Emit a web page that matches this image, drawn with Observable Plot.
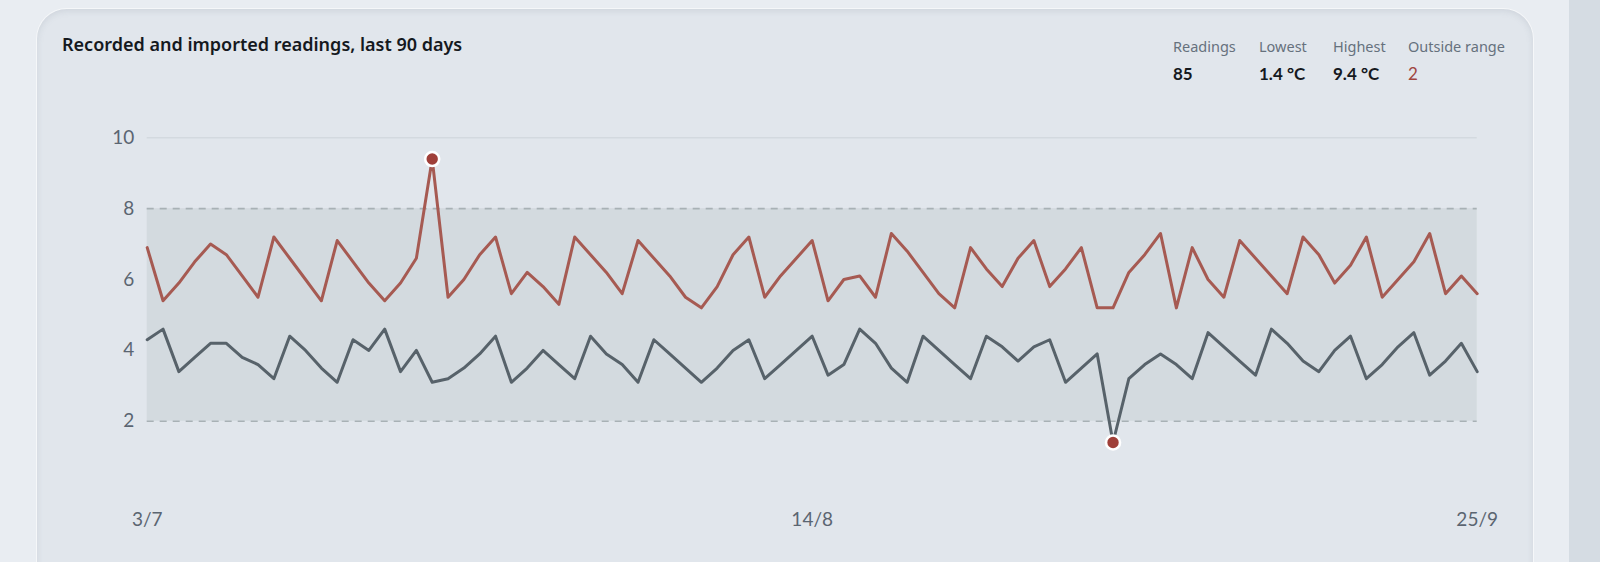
<!DOCTYPE html>
<html>
<head>
<meta charset="utf-8">
<script src="https://cdn.jsdelivr.net/npm/d3@7"></script>
<script src="https://cdn.jsdelivr.net/npm/@observablehq/plot@0.6"></script>
<style>
  html, body { margin: 0; padding: 0; }
  body {
    width: 1600px; height: 562px; overflow: hidden; position: relative;
    background: #e9edf2; font-family: Lato, "Noto Sans", sans-serif;
  }
  .strip { position: absolute; left: 1569px; top: 0; width: 31px; height: 562px; background: #d5dce3; }
  .card {
    position: absolute; left: 37px; top: 9px; width: 1496px; height: 640px;
    background: #e1e6ec; border-radius: 30px;
    box-shadow: inset 0 2px 6px rgba(120,135,150,0.18), 0 0 0 1px rgba(255,255,255,0.55);
  }
  #chart { position: absolute; left: 0; top: 0; }
  .title {
    position: absolute; left: 62px; top: 32px; font-family: "Noto Sans", sans-serif;
    font-size: 18px; font-weight: 600; color: #15191e; white-space: nowrap;
  }
  .stat { position: absolute; top: 36px; }
  .stat .lab { font-family: "Noto Sans", sans-serif; font-size: 14.5px; color: #66717d; line-height: 20px; white-space: nowrap; }
  .stat .val { font-size: 17px; font-weight: 700; color: #15191e; line-height: 20px; margin-top: 8px; white-space: nowrap; }
  .stat .val.alert { color: #a0453f; font-weight: 400; }
</style>
</head>
<body>
<div class="strip"></div>
<div class="card"></div>
<div id="chart"></div>
<div class="title">Recorded and imported readings, last 90 days</div>
<div id="stats"></div>
<script>
// ---- data ----
const recorded = [6.9,5.4,5.9,6.5,7.0,6.7,6.1,5.5,7.2,6.6,6.0,5.4,7.1,6.5,5.9,5.4,5.9,6.6,9.4,5.5,
  6.0,6.7,7.2,5.6,6.2,5.8,5.3,7.2,6.7,6.2,5.6,7.1,6.6,6.1,5.5,5.2,5.8,6.7,7.2,5.5,
  6.1,6.6,7.1,5.4,6.0,6.1,5.5,7.3,6.8,6.2,5.6,5.2,6.9,6.3,5.8,6.6,7.1,5.8,6.3,6.9,
  5.2,5.2,6.2,6.7,7.3,5.2,6.9,6.0,5.5,7.1,6.6,6.1,5.6,7.2,6.7,5.9,6.4,7.2,5.5,6.0,
  6.5,7.3,5.6,6.1,5.6];
const imported = [4.3,4.6,3.4,3.8,4.2,4.2,3.8,3.6,3.2,4.4,4.0,3.5,3.1,4.3,4.0,4.6,3.4,4.0,3.1,3.2,
  3.5,3.9,4.4,3.1,3.5,4.0,3.6,3.2,4.4,3.9,3.6,3.1,4.3,3.9,3.5,3.1,3.5,4.0,4.3,3.2,
  3.6,4.0,4.4,3.3,3.6,4.6,4.2,3.5,3.1,4.4,4.0,3.6,3.2,4.4,4.1,3.7,4.1,4.3,3.1,3.5,
  3.9,1.4,3.2,3.6,3.9,3.6,3.2,4.5,4.1,3.7,3.3,4.6,4.2,3.7,3.4,4.0,4.4,3.2,3.6,4.1,
  4.5,3.3,3.7,4.2,3.4];
const seriesNames = ["Recorded", "Imported"];
const seriesColors = ["#a65a52", "#57626a"];
const rangeLow = 2, rangeHigh = 8;
const yTicks = [2, 4, 6, 8, 10];
const xTickDays = [0, 42, 84];
const xTickLabels = ["3/7", "14/8", "25/9"];
const statLabels = ["Readings", "Lowest", "Highest", "Outside range"];
const statValues = ["85", "1.4 °C", "9.4 °C", "2"];
const statLeft = [1173, 1259, 1333, 1408];

// ---- table ----
const rows = [];
[recorded, imported].forEach((arr, s) => arr.forEach((v, i) => rows.push({day: i, value: v, series: seriesNames[s]})));
const outside = rows.filter(d => d.value < rangeLow || d.value > rangeHigh);
const band = [{x1: 0, x2: recorded.length - 1, y1: rangeLow, y2: rangeHigh}];

const chart = Plot.plot({
  width: 1600, height: 562,
  marginLeft: 146.7, marginRight: 123.3, marginTop: 137.3, marginBottom: 70.4,
  style: {background: "transparent", fontFamily: "Lato, 'Noto Sans', sans-serif", color: "#5b6571"},
  x: {domain: [0, recorded.length - 1]},
  y: {domain: [0, 10]},
  color: {domain: seriesNames, range: seriesColors},
  marks: [
    Plot.ruleY([10], {stroke: "#d3d9df", strokeWidth: 1.5}),
    Plot.rect(band, {x1: "x1", x2: "x2", y1: "y1", y2: "y2", fill: "#d3dadf"}),
    Plot.ruleY([rangeLow, rangeHigh], {x1: 0, x2: recorded.length - 1, stroke: "#a8b1b5", strokeWidth: 1.6, strokeDasharray: "7,6"}),
    Plot.axisY({ticks: yTicks, tickSize: 0, tickPadding: 13, fontSize: 19, label: null, color: "#5b6571"}),
    Plot.axisX({ticks: xTickDays, tickSize: 0, tickPadding: 20, fontSize: 19, label: null,
      tickFormat: d => xTickLabels[xTickDays.indexOf(d)], color: "#5b6571"}),
    Plot.line(rows, {x: "day", y: "value", z: "series", stroke: "series", strokeWidth: 3, strokeLinejoin: "round"}),
    Plot.dot(outside, {x: "day", y: "value", r: 7, fill: "#9f3f39", stroke: "white", strokeWidth: 2.6})
  ]
});
document.getElementById("chart").appendChild(chart);

const stats = document.getElementById("stats");
statLabels.forEach((l, i) => {
  const el = document.createElement("div");
  el.className = "stat";
  el.style.left = statLeft[i] + "px";
  el.innerHTML = `<div class="lab">${l}</div><div class="val${i === 3 ? " alert" : ""}">${statValues[i]}</div>`;
  stats.appendChild(el);
});
</script>
</body>
</html>
